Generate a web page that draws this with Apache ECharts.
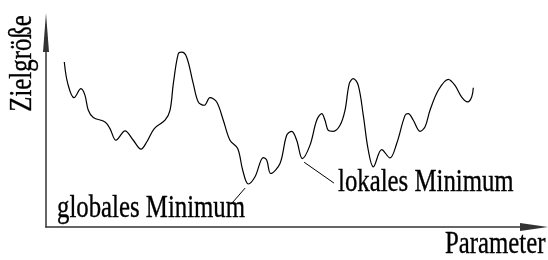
<!DOCTYPE html>
<html>
<head>
<meta charset="utf-8">
<script src="https://cdn.jsdelivr.net/npm/echarts@6/dist/echarts.min.js"></script>
<style>
  html, body { margin: 0; padding: 0; background: #fff; }
  #chart { width: 548px; height: 260px; }
</style>
</head>
<body>
<div id="chart"></div>
<script>
// Parameter (x) und Zielgröße (y), beliebige Einheiten 0..100
var paramX = [3.75, 4.45, 5.74, 7.17, 7.99, 8.67, 9.69, 12.09, 13.11, 14.34, 16.19, 17.89, 19.47, 20.64, 22.19,
  24.39, 25.41, 26.09, 27.11, 27.81, 28.83, 30.18, 31.21, 32.44, 33.61, 34.98, 36.33, 37.70, 39.28, 40.31,
  41.45, 42.83, 44.53, 45.22, 46.05, 47.95, 49.32, 50.35, 51.37, 52.52, 54.10, 55.47, 56.50, 57.17, 57.85,
  58.87, 60.25, 61.27, 62.15, 62.97, 63.99, 65.02, 66.04, 67.07, 68.79, 70.49, 71.86, 73.57, 74.24, 75.27,
  76.64, 77.66, 78.69, 80.39, 82.44, 83.81, 85.18, 86.41, 87.23, 87.56];
var zielY = [84.8, 73.8, 66.5, 71.1, 67.7, 60.0, 56.3, 54.0, 50.6, 44.6, 49.4, 44.6, 40.0, 43.7, 50.6,
  54.9, 60.0, 73.7, 89.1, 89.9, 87.3, 73.7, 64.3, 62.6, 66.5, 64.3, 54.9, 44.6, 40.4, 29.2,
  22.1, 25.8, 35.7, 34.4, 27.5, 32.7, 47.2, 49.2, 44.6, 35.2, 42.1, 54.9, 58.3, 54.9, 49.7,
  49.2, 52.3, 60.0, 73.7, 76.3, 72.8, 57.4, 39.5, 30.9, 39.8, 35.5, 42.9, 57.4, 58.3, 54.9,
  49.2, 51.4, 60.0, 70.3, 75.9, 72.8, 66.8, 64.3, 66.8, 71.6];

// Hinweislinien: [von x, von y, bis x, bis y]
var globalPointer = [40.8, 20.0, 38.3, 12.8];
var localPointer = [52.9, 33.3, 59.0, 22.6];

var labels = {
  yName: 'Zielgröße',
  xName: 'Parameter',
  globalMin: 'globales Minimum',
  localMin: 'lokales Minimum'
};

var fontFam = '"Liberation Serif", "Times New Roman", serif';

var points = paramX.map(function (x, i) { return [x, zielY[i]]; });

function pointerLine(p) {
  return [{ coord: [p[0], p[1]] }, { coord: [p[2], p[3]] }];
}

function axisBase(arrowSize) {
  return {
    type: 'value',
    min: 0,
    max: 100,
    axisLine: {
      show: true,
      onZero: false,
      symbol: ['none', 'triangle'],
      symbolSize: arrowSize,
      lineStyle: { color: '#333', width: 1.5 }
    },
    axisTick: { show: false },
    axisLabel: { show: false },
    splitLine: { show: false }
  };
}

// Beschriftung schmal wie im Original (gestauchte Times)
function textEl(str, x, y, rot) {
  return {
    type: 'text',
    x: x,
    y: y,
    rotation: rot || 0,
    scaleX: 0.8,
    style: {
      text: str,
      fill: '#000',
      stroke: '#000',
      lineWidth: 0.35,
      font: '31px ' + fontFam,
      align: rot ? 'center' : 'left',
      verticalAlign: 'middle'
    }
  };
}

var chart = echarts.init(document.getElementById('chart'));
var xAxisOpt = axisBase([8, 28]);
var yAxisOpt = axisBase([6, 39]);
chart.setOption({
  animation: false,
  grid: { left: 46, right: 14, top: 32.5, bottom: 33 },
  xAxis: xAxisOpt,
  yAxis: yAxisOpt,
  series: [{
    type: 'line',
    data: points,
    smooth: 0.35,
    showSymbol: false,
    lineStyle: { color: '#000', width: 1.2 },
    markLine: {
      silent: true,
      symbol: ['none', 'none'],
      label: { show: false },
      lineStyle: { color: '#000', width: 1, type: 'solid' },
      data: [pointerLine(globalPointer), pointerLine(localPointer)]
    }
  }],
  graphic: [
    textEl(labels.yName, 23, 63.5, Math.PI / 2),
    textEl(labels.xName, 445, 244.5),
    textEl(labels.globalMin, 57, 209),
    textEl(labels.localMin, 338, 182.5)
  ]
});
</script>
</body>
</html>
